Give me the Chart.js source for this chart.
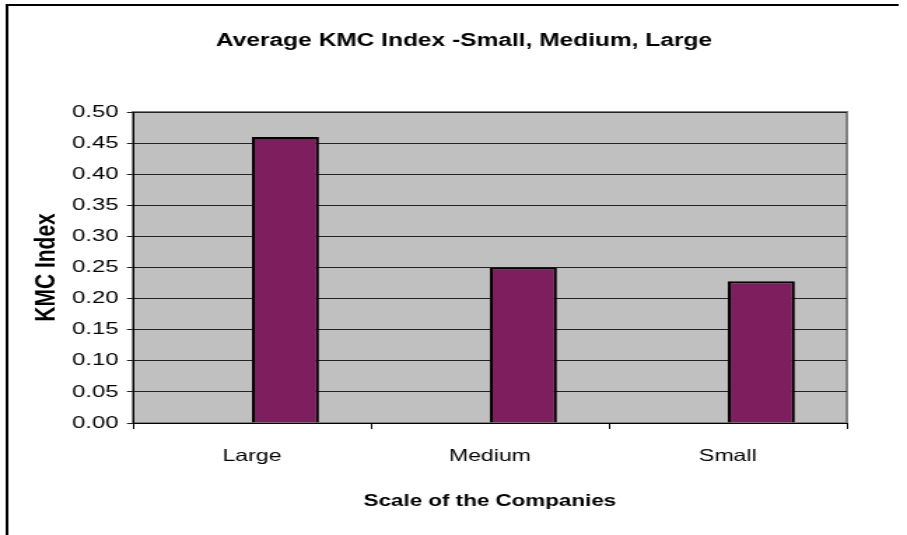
<!DOCTYPE html>
<html>
<head>
<meta charset="utf-8">
<script src="https://cdn.jsdelivr.net/npm/chart.js@4"></script>
<style>
  body { margin: 0; background: #fff; overflow: hidden; }
  /* la imagen original está estirada a lo ancho: se dibuja a 648px y se estira a 907px */
  canvas { display: block; transform: scaleX(1.39969); transform-origin: 0 0; }
</style>
</head>
<body>
<canvas id="chartKmc" width="648" height="535"></canvas>
<script>
// Datos del gráfico
const categorias = ['Large', 'Medium', 'Small'];
const indiceKmc = [0.46, 0.25, 0.228];
const vacio = [null, null, null]; // serie vacía (Excel deja hueco a la izquierda)
const tituloGrafico = 'Average KMC Index -Small, Medium, Large';
const tituloX = 'Scale of the Companies';
const tituloY = 'KMC Index';

const fuente = "'Liberation Sans', Arial, sans-serif";

// fondo gris del área de trazado, borde del gráfico y título
const marcoExcel = {
    id: 'marcoExcel',
    beforeDraw(chart) {
        const { ctx, chartArea: a } = chart;
        ctx.save();
        ctx.fillStyle = '#c0c0c0';
        ctx.fillRect(a.left, a.top, a.right - a.left, a.bottom - a.top);
        ctx.strokeStyle = '#808080';
        ctx.lineWidth = 2;
        ctx.strokeRect(a.left, a.top, a.right - a.left, a.bottom - a.top);
        // borde exterior
        ctx.strokeStyle = '#000';
        ctx.lineWidth = 2;
        ctx.beginPath();
        ctx.moveTo(5, 540);
        ctx.lineTo(5, 5);
        ctx.lineTo(642, 5);
        ctx.stroke();
        // título
        ctx.fillStyle = '#000';
        ctx.font = 'bold 17.5px ' + fuente;
        ctx.textAlign = 'center';
        ctx.textBaseline = 'middle';
        ctx.fillText(tituloGrafico, 331.5, 41);
        ctx.restore();
    }
};

const ctxKmc = document.getElementById('chartKmc').getContext('2d');
new Chart(ctxKmc, {
    type: 'bar',
    data: {
        labels: categorias,
        datasets: [{
            label: '',
            data: vacio,
            backgroundColor: 'rgba(0,0,0,0)'
        }, {
            label: 'KMC Index',
            data: indiceKmc,
            backgroundColor: '#7e1e5e',
            borderColor: '#000',
            borderWidth: 2
        }]
    },
    options: {
        responsive: false,
        animation: false,
        layout: { padding: { top: 112, right: 43, left: 0, bottom: 0 } },
        datasets: {
            bar: { categoryPercentage: 0.563, barPercentage: 1.0 }
        },
        plugins: {
            legend: { display: false },
            tooltip: { enabled: false }
        },
        scales: {
            x: {
                offset: true,
                grid: {
                    offset: true,
                    drawOnChartArea: false,
                    color: '#000',
                    tickLength: 6
                },
                border: { color: '#000', width: 1 },
                ticks: {
                    color: '#000',
                    padding: 18,
                    font: { family: fuente, size: 16.5 }
                },
                title: {
                    display: true,
                    text: tituloX,
                    color: '#000',
                    font: { family: fuente, size: 16, weight: 'bold' },
                    padding: { top: 0, bottom: 24 }
                },
                afterFit(scale) { scale.height = 112; }
            },
            y: {
                min: 0,
                max: 0.5,
                ticks: {
                    stepSize: 0.05,
                    color: '#000',
                    padding: 6,
                    font: { family: fuente, size: 17 },
                    callback: v => v.toFixed(2)
                },
                grid: {
                    color: '#222',
                    lineWidth: 1,
                    tickLength: 4.3
                },
                border: { color: '#000', width: 1 },
                title: {
                    display: true,
                    text: tituloY,
                    color: '#000',
                    font: { family: fuente, size: 21, weight: 'bold' },
                    padding: { top: 21, bottom: 0 }
                },
                afterFit(scale) { scale.width = 95; }
            }
        }
    },
    plugins: [marcoExcel]
});
</script>
</body>
</html>
